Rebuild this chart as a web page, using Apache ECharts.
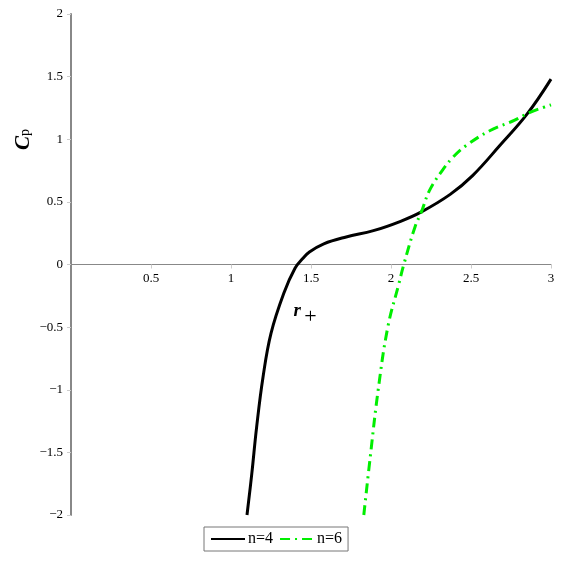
<!DOCTYPE html>
<html>
<head>
<meta charset="utf-8">
<script src="https://cdn.jsdelivr.net/npm/echarts@6/dist/echarts.min.js"></script>
<style>
  html, body { margin: 0; padding: 0; background: #fff; }
  #main { width: 561px; height: 561px; }
</style>
</head>
<body>
<div id="main"></div>
<script>
// n=4 curve
var r4 = [1.10, 1.13, 1.16, 1.20, 1.25, 1.33, 1.40, 1.45, 1.49, 1.58, 1.72, 1.89, 2.06, 2.19, 2.37, 2.51, 2.68, 2.85, 3.00];
var cp4 = [-2.0, -1.67, -1.30, -0.90, -0.55, -0.23, -0.03, 0.05, 0.10, 0.165, 0.22, 0.27, 0.345, 0.42, 0.56, 0.71, 0.95, 1.20, 1.48];
// n=6 curve
var r6 = [1.83, 1.87, 1.92, 1.98, 2.05, 2.08, 2.15, 2.19, 2.24, 2.32, 2.39, 2.47, 2.62, 2.77, 2.86, 3.00];
var cp6 = [-2.0, -1.54, -1.00, -0.50, -0.15, 0.0, 0.30, 0.42, 0.59, 0.75, 0.86, 0.95, 1.07, 1.15, 1.21, 1.275];
var legendNames = ['n=4', 'n=6'];

function pairs(xs, ys) {
  return xs.map(function (x, i) { return [x, ys[i]]; });
}

var serif = '"Liberation Serif", "DejaVu Serif", serif';
var chart = echarts.init(document.getElementById('main'));
var option = {
  animation: false,
  grid: { left: 71, right: 10, top: 14, bottom: 46, containLabel: false, outerBoundsMode: 'none' },
  legend: {
    data: legendNames,
    left: 204,
    top: 527,
    orient: 'horizontal',
    itemWidth: 34,
    itemHeight: 12,
    itemGap: 6,
    padding: [4, 6],
    borderColor: '#777',
    borderWidth: 1,
    itemStyle: { opacity: 0 },
    textStyle: { fontFamily: serif, fontSize: 16, color: '#000', padding: [0, 0, 0, -2] }
  },
  xAxis: {
    type: 'value',
    min: 0,
    max: 3,
    interval: 0.5,
    // put the whole axis (line, ticks, labels, name) on y = 0
    offset: -250.5,
    name: '{r|r} {s|+}',
    nameLocation: 'middle',
    nameGap: 30,
    nameTextStyle: {
      padding: [0, 12, 0, 0],
      rich: {
        r: { fontFamily: serif, fontSize: 19, fontWeight: 'bold', fontStyle: 'italic', color: '#000' },
        s: { fontFamily: serif, fontSize: 22, color: '#000', padding: [12, 0, 0, 0] }
      }
    },
    axisLine: { onZero: false, lineStyle: { color: '#888', width: 1 } },
    axisTick: { show: true, length: 4, lineStyle: { color: '#ccc' } },
    axisLabel: {
      showMinLabel: false,
      margin: 8,
      fontFamily: serif,
      fontSize: 13,
      color: '#000'
    },
    splitLine: { show: false }
  },
  yAxis: {
    type: 'value',
    min: -2,
    max: 2,
    interval: 0.5,
    axisLine: { show: true, lineStyle: { color: '#888', width: 2 } },
    axisTick: { show: true, length: 4, lineStyle: { color: '#ccc' } },
    axisLabel: {
      margin: 8,
      fontFamily: serif,
      fontSize: 13,
      color: '#000',
      formatter: function (v) { return String(v).replace('-', '\u2212'); }
    },
    splitLine: { show: false }
  },
  graphic: [
    {
      type: 'text',
      x: 13,
      y: 150,
      rotation: Math.PI / 2,
      style: {
        text: '{c|C}{p|p}',
        rich: {
          c: { fontFamily: serif, fontSize: 21, fontWeight: 'bold', fontStyle: 'italic', fill: '#000' },
          p: { fontFamily: serif, fontSize: 14, fill: '#000', padding: [4, 0, 0, 0] }
        }
      }
    }
  ],
  series: [
    {
      name: legendNames[0],
      type: 'line',
      data: pairs(r4, cp4),
      smooth: 0.4,
      symbol: 'none',
      lineStyle: { color: '#000', width: 3 },
      itemStyle: { color: '#000' }
    },
    {
      name: legendNames[1],
      type: 'line',
      data: pairs(r6, cp6),
      smooth: 0.4,
      symbol: 'none',
      lineStyle: { color: '#00ee00', width: 3, type: [10, 5, 2, 5] },
      itemStyle: { color: '#00ee00' }
    }
  ]
};
chart.setOption(option);
</script>
</body>
</html>
